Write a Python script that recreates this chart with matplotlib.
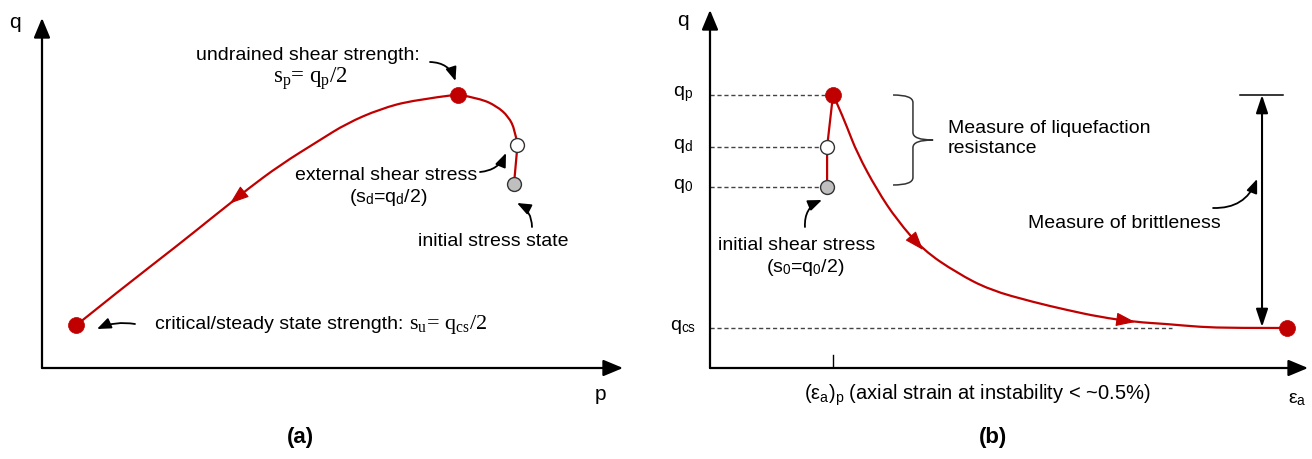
import matplotlib
matplotlib.use("Agg")
import matplotlib.pyplot as plt
from matplotlib.path import Path
from matplotlib.patches import PathPatch

plt.rcParams["font.family"] = ["Liberation Sans", "DejaVu Sans"]
plt.rcParams["mathtext.fontset"] = "custom"
plt.rcParams["mathtext.rm"] = "Liberation Serif"
plt.rcParams["mathtext.sf"] = "Liberation Sans"
plt.rcParams["mathtext.it"] = "Liberation Serif:italic"

# ---- (a) undrained stress path in p-q space ----
path_a_p = [9.44, 9.51, 9.46, 9.33, 9.09, 8.76, 8.32, 7.43, 6.76, 6.09, 5.56,
            4.76, 4.09, 3.76, 3.43, 2.76, 1.56, 0.69]
path_a_q = [3.68, 4.46, 4.76, 5.03, 5.24, 5.39, 5.47, 5.36, 5.18, 4.89, 4.56,
            4.06, 3.56, 3.29, 3.03, 2.49, 1.56, 0.86]
a_initial, a_external, a_peak, a_critical = 0, 1, 6, 17
a_arrow_heads = [13]

# ---- (b) shear stress vs axial strain ----
strain_b = [0.476, 0.476, 0.500, 0.516, 0.557, 0.598, 0.679, 0.760, 0.866,
            1.004, 1.138, 1.313, 1.451, 1.585, 1.728, 1.858, 1.992, 2.126, 2.346]
q_b = [3.62, 4.42, 5.46, 5.30, 4.82, 4.30, 3.56, 2.96, 2.36,
       1.90, 1.56, 1.32, 1.16, 1.02, 0.92, 0.88, 0.82, 0.80, 0.80]
b_initial, b_external, b_peak, b_critical = 0, 1, 2, 18
b_arrow_heads = [8, 14]
q_levels = [5.46, 4.42, 3.62, 0.80]
q_level_labels = [r"q$_\mathsf{p}$", r"q$_\mathsf{d}$", r"q$_\mathsf{0}$", r"q$_\mathsf{cs}$"]
q_level_ends = [0.500, 0.476, 0.476, 1.878]
strain_at_peak = 0.5

RED = "#c00000"
FS = 14

W, H = 1312, 459
fig = plt.figure(figsize=(W / 100, H / 100), dpi=100)
ax_a = fig.add_axes([42 / W, (H - 368) / H, 583 / W, 358 / H])
ax_a.set_xlim(0, 11.66)
ax_a.set_ylim(0, 7.16)
ax_a.axis("off")
ax_b = fig.add_axes([710 / W, (H - 368) / H, 600 / W, 358 / H])
ax_b.set_xlim(0, 600 / 246)
ax_b.set_ylim(0, 7.16)
ax_b.axis("off")

axis_arrow = dict(arrowstyle="-|>,head_length=0.6,head_width=0.25",
                  color="black", lw=1.6, mutation_scale=20, shrinkA=0, shrinkB=0)
note_arrow = dict(arrowstyle="-|>,head_length=0.55,head_width=0.22",
                  color="black", lw=1.3, mutation_scale=15, shrinkA=0, shrinkB=0)
path_arrow = dict(arrowstyle="-|>,head_length=0.5,head_width=0.18",
                  color=RED, lw=0.8, mutation_scale=24, shrinkA=0, shrinkB=0)


def axis_arrows(ax, xtip, ytip):
    ax.annotate("", xy=(0, ytip), xytext=(0, 0), arrowprops=axis_arrow,
                annotation_clip=False)
    ax.annotate("", xy=(xtip, 0), xytext=(0, 0), arrowprops=axis_arrow,
                annotation_clip=False)


def note(ax, start, end, rad):
    props = dict(note_arrow, connectionstyle=f"arc3,rad={rad}")
    ax.annotate("", xy=end, xytext=start, arrowprops=props, annotation_clip=False)


def smooth_piece(pts):
    """Quadratic B-spline through a run of points (ends are exact)."""
    if len(pts) == 2:
        return pts, [Path.MOVETO, Path.LINETO]
    verts, codes = [pts[0]], [Path.MOVETO]
    n = len(pts)
    for i in range(1, n - 1):
        if i == n - 2:
            end = pts[n - 1]
        else:
            end = ((pts[i][0] + pts[i + 1][0]) / 2, (pts[i][1] + pts[i + 1][1]) / 2)
        verts += [pts[i], end]
        codes += [Path.CURVE3, Path.CURVE3]
    return verts, codes


def draw_path(ax, xs, ys, breaks, heads):
    pts = list(zip(xs, ys))
    verts, codes = [], []
    for s, e in zip(breaks[:-1], breaks[1:]):
        v, c = smooth_piece(pts[s:e + 1])
        if verts:
            v, c = v[1:], c[1:]
        verts += v
        codes += c
    ax.add_patch(PathPatch(Path(verts, codes), fill=False, ec=RED, lw=1.6,
                           joinstyle="round", zorder=3))
    for i in heads:
        tail = ((xs[i - 1] + xs[i]) / 2, (ys[i - 1] + ys[i]) / 2)
        ax.annotate("", xy=(xs[i], ys[i]), xytext=tail, arrowprops=path_arrow, zorder=4)


def state_dots(ax, xs, ys, initial, external, peak, critical):
    ax.plot(xs[initial], ys[initial], "o", ms=10, mfc="#bfbfbf", mec="#333333",
            mew=1, zorder=5)
    ax.plot(xs[external], ys[external], "o", ms=10, mfc="white", mec="#333333",
            mew=1, zorder=5)
    for k in (peak, critical):
        ax.plot(xs[k], ys[k], "o", ms=11.5, mfc=RED, mec=RED, mew=0.5, zorder=5)


# ---------------- panel (a) ----------------
axis_arrows(ax_a, 11.62, 7.0)
draw_path(ax_a, path_a_p, path_a_q, [a_initial, a_external, a_peak, a_critical],
          a_arrow_heads)
state_dots(ax_a, path_a_p, path_a_q, a_initial, a_external, a_peak, a_critical)

ax_a.text(-0.54, 6.92, "q", fontsize=15, ha="center", va="center")
ax_a.text(11.16, -0.54, "p", fontsize=15, ha="center", va="center")

ax_a.text(5.32, 6.26, "undrained shear strength:", fontsize=FS, ha="center", va="center")
ax_a.text(5.36, 5.78, r"s$_\mathrm{p}$= q$_\mathrm{p}$/2", fontsize=16.5,
          family="Liberation Serif", ha="center", va="center")
note(ax_a, (7.76, 6.12), (8.27, 5.74), -0.35)

ax_a.text(6.88, 3.86, "external shear stress", fontsize=FS, ha="center", va="center")
ax_a.text(6.92, 3.40, r"(s$_\mathsf{d}$=q$_\mathsf{d}$/2)", fontsize=FS,
          ha="center", va="center")
note(ax_a, (8.76, 3.92), (9.28, 4.30), 0.3)

ax_a.text(9.02, 2.52, "initial stress state", fontsize=FS, ha="center", va="center")
note(ax_a, (9.80, 2.82), (9.50, 3.30), 0.3)

t_crit = ax_a.text(2.26, 0.78, "critical/steady state strength:", fontsize=FS,
                   ha="left", va="baseline")
ax_a.annotate(r"s$_\mathrm{u}$= q$_\mathrm{cs}$/2", xy=(1.0, 0.78),
              xycoords=(t_crit, "data"), xytext=(4, 0), textcoords="offset points",
              fontsize=16, family="Liberation Serif", ha="left", va="baseline")
note(ax_a, (1.86, 0.88), (1.10, 0.78), 0.15)

# ---------------- panel (b) ----------------
axis_arrows(ax_b, 2.431, 7.16)
for lvl, end, lab in zip(q_levels, q_level_ends, q_level_labels):
    ax_b.plot([0, end], [lvl, lvl], color="#444444", lw=1.0, ls=(0, (3, 2)), zorder=2)
    ax_b.text(-0.11, lvl + 0.02, lab, fontsize=FS, ha="center", va="center")

ax_b.plot([strain_at_peak, strain_at_peak], [0, 0.26], color="black", lw=1.0)
draw_path(ax_b, strain_b, q_b, [b_initial, b_external, b_peak, b_critical],
          b_arrow_heads)
state_dots(ax_b, strain_b, q_b, b_initial, b_external, b_peak, b_critical)

ax_b.text(-0.11, 6.96, "q", fontsize=15, ha="center", va="center")
ax_b.text(2.386, -0.64, r"ε$_\mathsf{a}$", fontsize=FS, ha="center", va="center")
ax_b.text(1.087, -0.54,
          r"(ε$_\mathsf{a}$)$_\mathsf{p}$ (axial strain at instability < ~0.5%)",
          fontsize=14.5, ha="center", va="center")

ax_b.text(0.354, 2.46, "initial shear stress", fontsize=FS, ha="center", va="center")
ax_b.text(0.386, 2.02, r"(s$_\mathsf{0}$=q$_\mathsf{0}$/2)", fontsize=FS,
          ha="center", va="center")
note(ax_b, (0.386, 2.82), (0.455, 3.36), -0.35)

# curly brace spanning q0 .. qp
xl, xm, xt = 0.744, 0.825, 0.907
yt, ym, yb = 5.46, 4.56, 3.66
d = 0.15
brace = Path(
    [(xl, yt), (xm, yt), (xm, yt - d), (xm, ym + d), (xm, ym), (xt, ym),
     (xm, ym), (xm, ym - d), (xm, yb + d), (xm, yb), (xl, yb)],
    [Path.MOVETO, Path.CURVE3, Path.CURVE3, Path.LINETO, Path.CURVE3, Path.CURVE3,
     Path.CURVE3, Path.CURVE3, Path.LINETO, Path.CURVE3, Path.CURVE3])
ax_b.add_patch(PathPatch(brace, fill=False, ec="#333333", lw=1.1))
ax_b.text(0.967, 4.59, "Measure of liquefaction\nresistance", fontsize=FS,
          ha="left", va="center", linespacing=1.2)

# brittleness: drop from peak to critical state
x_br = 2.244
ax_b.plot([2.154, 2.329], [q_b[b_peak], q_b[b_peak]], color="black", lw=1.1)
ax_b.annotate("", xy=(x_br, q_b[b_peak]), xytext=(x_br, q_b[b_critical] + 0.02),
              arrowprops=dict(arrowstyle="<|-|>,head_length=0.6,head_width=0.2",
                              color="black", lw=1.5, mutation_scale=18,
                              shrinkA=0, shrinkB=0))
ax_b.text(1.683, 2.90, "Measure of brittleness", fontsize=FS, ha="center", va="center")
note(ax_b, (2.045, 3.20), (2.224, 3.78), 0.35)

fig.text(300 / W, 1 - 437 / H, "(a)", fontsize=16, fontweight="bold",
         ha="center", va="center")
fig.text(993 / W, 1 - 437 / H, "(b)", fontsize=16, fontweight="bold",
         ha="center", va="center")

fig.savefig("out.png", dpi=100)
